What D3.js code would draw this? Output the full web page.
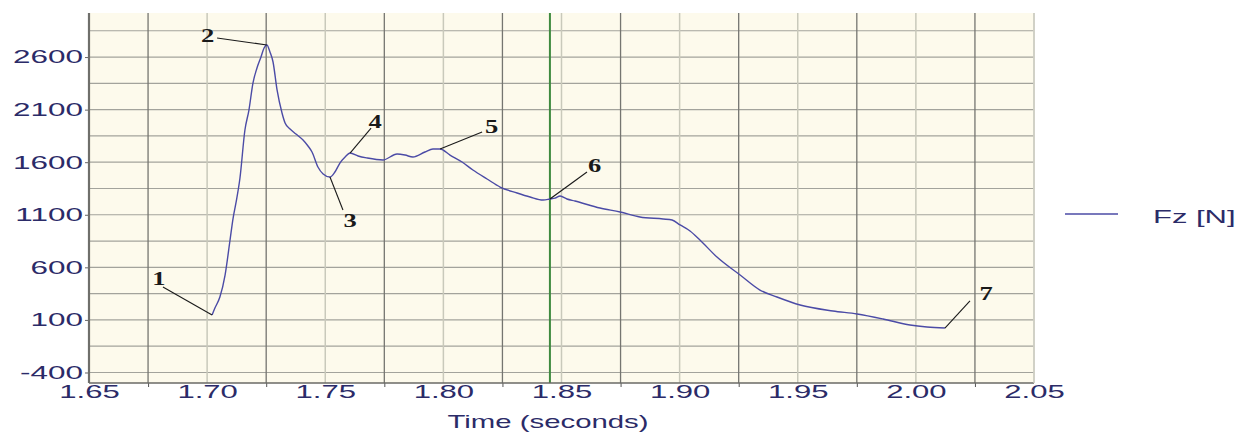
<!DOCTYPE html>
<html>
<head>
<meta charset="utf-8">
<script src="https://cdn.jsdelivr.net/npm/d3@7"></script>
<style>
  body { margin: 0; background: #ffffff; }
  svg { display: block; }
</style>
</head>
<body>
<svg id="chart" width="1248" height="432"></svg>
<script>
// Vertical ground reaction force during the stance phase
const timeSec = [1.7021, 1.7033, 1.7054, 1.7076, 1.7097, 1.7110, 1.7122, 1.7139, 1.7160, 1.7177,
  1.7194, 1.7211, 1.7228, 1.7241, 1.7253, 1.7266, 1.7279, 1.7296, 1.7317, 1.7330,
  1.7351, 1.7376, 1.7406, 1.7427, 1.7444, 1.7469, 1.7491, 1.7520, 1.7541, 1.7562,
  1.7584, 1.7605, 1.7639, 1.7677, 1.7744, 1.7804, 1.7838, 1.7871, 1.7922, 1.7956,
  1.7986, 1.8028, 1.8079, 1.8125, 1.8185, 1.8240, 1.8312, 1.8367, 1.8422, 1.8451,
  1.8473, 1.8494, 1.8523, 1.8557, 1.8663, 1.8748, 1.8832, 1.8930, 1.8968, 1.9002,
  1.9044, 1.9086, 1.9158, 1.9256, 1.9340, 1.9412, 1.9510, 1.9649, 1.9751, 1.9861,
  1.9975, 2.0047, 2.0123];
const forceN = [147, 213, 318, 527, 860, 1069, 1212, 1450, 1906, 2096,
  2353, 2496, 2601, 2686, 2715, 2648, 2553, 2287, 2068, 1973,
  1916, 1868, 1811, 1754, 1697, 1554, 1488, 1459, 1507, 1592,
  1650, 1687, 1659, 1640, 1621, 1678, 1668, 1649, 1697, 1726,
  1726, 1668, 1602, 1526, 1440, 1364, 1307, 1269, 1240, 1250,
  1259, 1278, 1250, 1231, 1164, 1126, 1079, 1060, 1050, 1003,
  946, 860, 698, 527, 384, 318, 242, 185, 156, 109,
  52, 33, 23];

// Numbered events on the curve, their leader ends and label positions
const eventLabels = ["1", "2", "3", "4", "5", "6", "7"];
const eventTime   = [1.7021, 1.7253, 1.7520, 1.7605, 1.7986, 1.8451, 2.0123];
const eventForce  = [147, 2715, 1459, 1687, 1726, 1250, 23];
const leaderTime  = [1.6813, 1.7042, 1.7575, 1.7694, 1.8164, 1.8608, 2.0229];
const leaderForce = [413, 2781, 1145, 1925, 1887, 1507, 280];
const labelTime   = [1.6796, 1.7002, 1.7605, 1.7711, 1.8204, 1.8640, 2.0297];
const labelForce  = [494, 2810, 1050, 1992, 1944, 1573, 356];

const cursorTime = 1.8451;

const xTickLabels = [1.65, 1.70, 1.75, 1.80, 1.85, 1.90, 1.95, 2.00, 2.05];
const xMajorLines = [1.675, 1.725, 1.775, 1.825, 1.875, 1.925, 1.975, 2.025];
const yTickValues = [-400, 100, 600, 1100, 1600, 2100, 2600];
const yGridValues = [-400, -150, 100, 350, 600, 850, 1100, 1350, 1600, 1850, 2100, 2350, 2600, 2850];
const xTitle = "Time (seconds)";
const seriesName = "Fz [N]";

const svg = d3.select("#chart");
const plotLeft = 89, plotRight = 1034, plotTop = 15, plotBottom = 383;

const x = d3.scaleLinear().domain([1.65, 2.05]).range([plotLeft, plotRight]);
const y = d3.scaleLinear().domain([-500, 3000]).range([plotBottom, plotTop]);

const navy = "#2b2b68";
const lineColor = "#4b4ba6";
const sansFont = "'Liberation Sans', Arial, sans-serif";
const serifFont = "'Liberation Serif', 'Times New Roman', serif";

// plot background
svg.append("rect")
  .attr("x", plotLeft).attr("y", plotTop - 2)
  .attr("width", plotRight - plotLeft).attr("height", plotBottom - plotTop + 2)
  .attr("fill", "#fdfaec");

// horizontal grid
svg.append("g").selectAll("line").data(yGridValues).join("line")
  .attr("x1", plotLeft).attr("x2", plotRight)
  .attr("y1", d => y(d)).attr("y2", d => y(d))
  .attr("stroke", "#a3a39c").attr("stroke-width", 1.2);

// light vertical grid at the labelled times
svg.append("g").selectAll("line").data(xTickLabels.slice(1)).join("line")
  .attr("x1", d => x(d)).attr("x2", d => x(d))
  .attr("y1", plotTop - 2).attr("y2", plotBottom)
  .attr("stroke", "#c9c9bb").attr("stroke-width", 1.5);

// dark vertical grid between them
svg.append("g").selectAll("line").data(xMajorLines).join("line")
  .attr("x1", d => x(d)).attr("x2", d => x(d))
  .attr("y1", plotTop - 2).attr("y2", plotBottom)
  .attr("stroke", "#757570").attr("stroke-width", 1.3);

// time cursor
svg.append("line")
  .attr("x1", x(cursorTime)).attr("x2", x(cursorTime))
  .attr("y1", plotTop - 2).attr("y2", plotBottom)
  .attr("stroke", "#3f8a3f").attr("stroke-width", 2);

// force curve
const series = timeSec.map((t, i) => ({ t, f: forceN[i] }));
svg.append("path")
  .datum(series)
  .attr("fill", "none")
  .attr("stroke", lineColor)
  .attr("stroke-width", 1.4)
  .attr("d", d3.line().x(d => x(d.t)).y(d => y(d.f)).curve(d3.curveMonotoneX));

// event leaders and numbers
const events = eventLabels.map((s, i) => ({
  s, t0: eventTime[i], f0: eventForce[i], t1: leaderTime[i], f1: leaderForce[i],
  tl: labelTime[i], fl: labelForce[i]
}));
svg.append("g").selectAll("line").data(events).join("line")
  .attr("x1", d => x(d.t0)).attr("y1", d => y(d.f0))
  .attr("x2", d => x(d.t1)).attr("y2", d => y(d.f1))
  .attr("stroke", "#1a1a1a").attr("stroke-width", 1.1);
svg.append("g").selectAll("text").data(events).join("text")
  .attr("transform", d => `translate(${x(d.tl)},${y(d.fl)}) scale(1.4,1)`)
  .attr("dy", "0.35em")
  .attr("text-anchor", "middle")
  .attr("font-family", serifFont)
  .attr("font-weight", "bold")
  .attr("font-size", 19)
  .attr("fill", "#1a1a1a")
  .text(d => d.s);

// axes
const yAxis = svg.append("g")
  .attr("transform", `translate(${plotLeft},0)`)
  .call(d3.axisLeft(y).tickValues(yTickValues).tickSize(4).tickPadding(2).tickFormat(d => String(d)));
yAxis.select(".domain").remove();
yAxis.selectAll(".tick line").attr("stroke", "#666");
yAxis.selectAll(".tick text")
  .attr("x", -6 / 1.7)
  .attr("transform", "scale(1.7,1)")
  .attr("font-family", sansFont)
  .attr("font-size", 18.5)
  .attr("fill", navy);

const xAxis = svg.append("g")
  .attr("transform", `translate(0,${plotBottom})`)
  .call(d3.axisBottom(x).tickValues(xTickLabels).tickSize(0).tickPadding(2).tickFormat(d3.format(".2f")));
xAxis.select(".domain").remove();
xAxis.selectAll(".tick text")
  .attr("transform", "scale(1.68,1)")
  .attr("font-family", sansFont)
  .attr("font-size", 18.5)
  .attr("fill", navy);

const xMarks = svg.append("g")
  .attr("transform", `translate(0,${plotBottom})`)
  .call(d3.axisBottom(x).tickValues(xMajorLines).tickSize(4).tickFormat(""));
xMarks.select(".domain").remove();
xMarks.selectAll(".tick line").attr("stroke", "#555");

// axis lines and right border
svg.append("line")
  .attr("x1", plotLeft).attr("x2", plotRight).attr("y1", plotBottom).attr("y2", plotBottom)
  .attr("stroke", "#6a6a66").attr("stroke-width", 1.5);
svg.append("line")
  .attr("x1", plotLeft).attr("x2", plotLeft).attr("y1", plotTop - 2).attr("y2", plotBottom)
  .attr("stroke", "#6f6f6b").attr("stroke-width", 2.2);
svg.append("line")
  .attr("x1", plotRight).attr("x2", plotRight).attr("y1", plotTop - 2).attr("y2", plotBottom)
  .attr("stroke", "#cfcfc6").attr("stroke-width", 1.5);

// axis title
svg.append("text")
  .attr("transform", "translate(548,428) scale(1.63,1)")
  .attr("text-anchor", "middle")
  .attr("font-family", sansFont)
  .attr("font-size", 18)
  .attr("fill", navy)
  .text(xTitle);

// legend
svg.append("line")
  .attr("x1", 1065).attr("x2", 1118).attr("y1", 214).attr("y2", 214)
  .attr("stroke", lineColor).attr("stroke-width", 1.4);
svg.append("text")
  .attr("transform", "translate(1153,223) scale(1.72,1)")
  .attr("font-family", sansFont)
  .attr("font-size", 18)
  .attr("fill", navy)
  .text(seriesName);
</script>
</body>
</html>
